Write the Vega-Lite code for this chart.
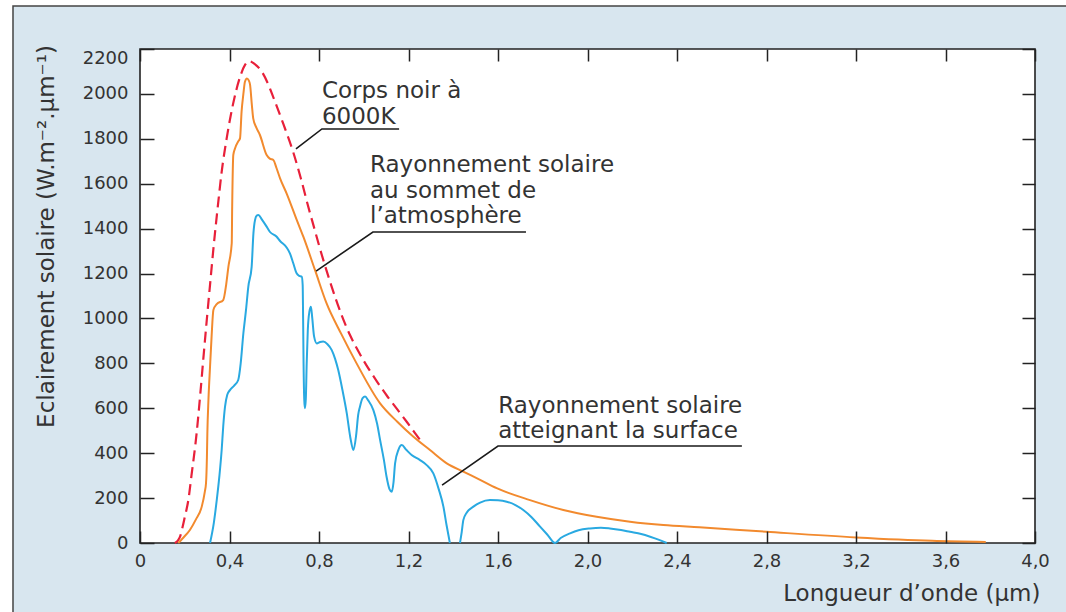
{
  "$schema": "https://vega.github.io/schema/vega-lite/v6.json",
  "width": 895,
  "height": 494,
  "autosize": {"type": "none"},
  "padding": {"left": 140, "top": 49, "right": 31, "bottom": 69},
  "background": "white",
  "config": {"view": {"stroke": null}, "font": "DejaVu Sans"},
  "datasets": {
    "corps_noir": [
      {"wl": 0.156, "e": 0}, {"wl": 0.17, "e": 12}, {"wl": 0.179, "e": 28}, {"wl": 0.19, "e": 70},
      {"wl": 0.2, "e": 115}, {"wl": 0.216, "e": 191}, {"wl": 0.23, "e": 300}, {"wl": 0.253, "e": 488},
      {"wl": 0.27, "e": 670}, {"wl": 0.283, "e": 820}, {"wl": 0.3, "e": 1010}, {"wl": 0.313, "e": 1150},
      {"wl": 0.33, "e": 1330}, {"wl": 0.35, "e": 1520}, {"wl": 0.365, "e": 1653}, {"wl": 0.387, "e": 1800},
      {"wl": 0.417, "e": 1960}, {"wl": 0.447, "e": 2075}, {"wl": 0.47, "e": 2130}, {"wl": 0.489, "e": 2146},
      {"wl": 0.51, "e": 2135}, {"wl": 0.544, "e": 2100}, {"wl": 0.57, "e": 2050}, {"wl": 0.596, "e": 1985},
      {"wl": 0.641, "e": 1865}, {"wl": 0.685, "e": 1740}, {"wl": 0.72, "e": 1620}, {"wl": 0.75, "e": 1505},
      {"wl": 0.78, "e": 1398}, {"wl": 0.804, "e": 1312}, {"wl": 0.849, "e": 1165}, {"wl": 0.901, "e": 1015},
      {"wl": 0.939, "e": 925}, {"wl": 0.968, "e": 868}, {"wl": 1.013, "e": 790}, {"wl": 1.06, "e": 718},
      {"wl": 1.102, "e": 658}, {"wl": 1.15, "e": 595}, {"wl": 1.192, "e": 540}, {"wl": 1.225, "e": 495},
      {"wl": 1.251, "e": 460}
    ],
    "sommet": [
      {"wl": 0.171, "e": 0}, {"wl": 0.19, "e": 20}, {"wl": 0.223, "e": 58}, {"wl": 0.25, "e": 105},
      {"wl": 0.276, "e": 162}, {"wl": 0.29, "e": 230}, {"wl": 0.295, "e": 266}, {"wl": 0.299, "e": 380},
      {"wl": 0.301, "e": 488}, {"wl": 0.306, "e": 640}, {"wl": 0.313, "e": 785}, {"wl": 0.32, "e": 920},
      {"wl": 0.328, "e": 1038}, {"wl": 0.343, "e": 1064}, {"wl": 0.372, "e": 1082}, {"wl": 0.385, "e": 1150},
      {"wl": 0.395, "e": 1230}, {"wl": 0.41, "e": 1335}, {"wl": 0.412, "e": 1500}, {"wl": 0.417, "e": 1728},
      {"wl": 0.425, "e": 1758}, {"wl": 0.44, "e": 1790}, {"wl": 0.447, "e": 1802}, {"wl": 0.454, "e": 1921},
      {"wl": 0.462, "e": 2000}, {"wl": 0.469, "e": 2054}, {"wl": 0.478, "e": 2069}, {"wl": 0.486, "e": 2060},
      {"wl": 0.492, "e": 2040}, {"wl": 0.5, "e": 1950}, {"wl": 0.506, "e": 1891}, {"wl": 0.52, "e": 1850},
      {"wl": 0.536, "e": 1817}, {"wl": 0.566, "e": 1728}, {"wl": 0.58, "e": 1712}, {"wl": 0.596, "e": 1706},
      {"wl": 0.61, "e": 1670}, {"wl": 0.626, "e": 1624}, {"wl": 0.656, "e": 1555}, {"wl": 0.7, "e": 1440},
      {"wl": 0.73, "e": 1364}, {"wl": 0.782, "e": 1216}, {"wl": 0.834, "e": 1067}, {"wl": 0.9, "e": 930},
      {"wl": 0.968, "e": 800}, {"wl": 1.073, "e": 622}, {"wl": 1.15, "e": 540}, {"wl": 1.222, "e": 473},
      {"wl": 1.296, "e": 414}, {"wl": 1.371, "e": 355}, {"wl": 1.445, "e": 318}, {"wl": 1.52, "e": 281},
      {"wl": 1.594, "e": 244}, {"wl": 1.743, "e": 191}, {"wl": 1.892, "e": 147}, {"wl": 2.041, "e": 117},
      {"wl": 2.19, "e": 95}, {"wl": 2.339, "e": 80}, {"wl": 2.5, "e": 70}, {"wl": 2.8, "e": 50},
      {"wl": 3.2, "e": 25}, {"wl": 3.54, "e": 10}, {"wl": 3.78, "e": 5}
    ],
    "surface": [
      {"seg": 1, "wl": 0.313, "e": 0}, {"seg": 1, "wl": 0.33, "e": 90}, {"seg": 1, "wl": 0.343, "e": 191},
      {"seg": 1, "wl": 0.355, "e": 300}, {"seg": 1, "wl": 0.365, "e": 414}, {"seg": 1, "wl": 0.372, "e": 520},
      {"seg": 1, "wl": 0.38, "e": 607}, {"seg": 1, "wl": 0.39, "e": 660}, {"seg": 1, "wl": 0.402, "e": 681},
      {"seg": 1, "wl": 0.42, "e": 700}, {"seg": 1, "wl": 0.439, "e": 726}, {"seg": 1, "wl": 0.45, "e": 800},
      {"seg": 1, "wl": 0.462, "e": 934}, {"seg": 1, "wl": 0.474, "e": 1040}, {"seg": 1, "wl": 0.484, "e": 1141},
      {"seg": 1, "wl": 0.499, "e": 1230}, {"seg": 1, "wl": 0.507, "e": 1380}, {"seg": 1, "wl": 0.514, "e": 1438},
      {"seg": 1, "wl": 0.522, "e": 1458}, {"seg": 1, "wl": 0.529, "e": 1461}, {"seg": 1, "wl": 0.545, "e": 1440},
      {"seg": 1, "wl": 0.566, "e": 1409}, {"seg": 1, "wl": 0.581, "e": 1385}, {"seg": 1, "wl": 0.611, "e": 1364},
      {"seg": 1, "wl": 0.626, "e": 1345}, {"seg": 1, "wl": 0.656, "e": 1315}, {"seg": 1, "wl": 0.67, "e": 1290},
      {"seg": 1, "wl": 0.685, "e": 1246}, {"seg": 1, "wl": 0.7, "e": 1201}, {"seg": 1, "wl": 0.712, "e": 1190},
      {"seg": 1, "wl": 0.723, "e": 1186}, {"seg": 1, "wl": 0.727, "e": 1150}, {"seg": 1, "wl": 0.729, "e": 1000},
      {"seg": 1, "wl": 0.731, "e": 800}, {"seg": 1, "wl": 0.734, "e": 640}, {"seg": 1, "wl": 0.737, "e": 600},
      {"seg": 1, "wl": 0.741, "e": 640}, {"seg": 1, "wl": 0.745, "e": 800}, {"seg": 1, "wl": 0.75, "e": 950},
      {"seg": 1, "wl": 0.757, "e": 1030}, {"seg": 1, "wl": 0.764, "e": 1052}, {"seg": 1, "wl": 0.77, "e": 1000},
      {"seg": 1, "wl": 0.778, "e": 920}, {"seg": 1, "wl": 0.79, "e": 889}, {"seg": 1, "wl": 0.805, "e": 895},
      {"seg": 1, "wl": 0.819, "e": 897}, {"seg": 1, "wl": 0.838, "e": 885}, {"seg": 1, "wl": 0.857, "e": 859},
      {"seg": 1, "wl": 0.872, "e": 820}, {"seg": 1, "wl": 0.886, "e": 770}, {"seg": 1, "wl": 0.905, "e": 680},
      {"seg": 1, "wl": 0.924, "e": 578}, {"seg": 1, "wl": 0.94, "e": 470}, {"seg": 1, "wl": 0.954, "e": 414},
      {"seg": 1, "wl": 0.966, "e": 480}, {"seg": 1, "wl": 0.975, "e": 570}, {"seg": 1, "wl": 0.983, "e": 607},
      {"seg": 1, "wl": 0.995, "e": 645}, {"seg": 1, "wl": 1.006, "e": 652}, {"seg": 1, "wl": 1.02, "e": 635},
      {"seg": 1, "wl": 1.043, "e": 592}, {"seg": 1, "wl": 1.06, "e": 530}, {"seg": 1, "wl": 1.073, "e": 459},
      {"seg": 1, "wl": 1.09, "e": 370}, {"seg": 1, "wl": 1.102, "e": 295}, {"seg": 1, "wl": 1.115, "e": 240},
      {"seg": 1, "wl": 1.125, "e": 228}, {"seg": 1, "wl": 1.133, "e": 270}, {"seg": 1, "wl": 1.14, "e": 355},
      {"seg": 1, "wl": 1.155, "e": 415}, {"seg": 1, "wl": 1.17, "e": 436}, {"seg": 1, "wl": 1.19, "e": 415},
      {"seg": 1, "wl": 1.214, "e": 392}, {"seg": 1, "wl": 1.25, "e": 370}, {"seg": 1, "wl": 1.28, "e": 348},
      {"seg": 1, "wl": 1.311, "e": 310}, {"seg": 1, "wl": 1.335, "e": 240}, {"seg": 1, "wl": 1.356, "e": 162},
      {"seg": 1, "wl": 1.37, "e": 80}, {"seg": 1, "wl": 1.385, "e": 0},
      {"seg": 2, "wl": 1.43, "e": 0}, {"seg": 2, "wl": 1.438, "e": 50}, {"seg": 2, "wl": 1.445, "e": 102},
      {"seg": 2, "wl": 1.46, "e": 135}, {"seg": 2, "wl": 1.49, "e": 162}, {"seg": 2, "wl": 1.52, "e": 180},
      {"seg": 2, "wl": 1.564, "e": 191}, {"seg": 2, "wl": 1.6, "e": 190}, {"seg": 2, "wl": 1.639, "e": 184},
      {"seg": 2, "wl": 1.68, "e": 168}, {"seg": 2, "wl": 1.713, "e": 147}, {"seg": 2, "wl": 1.75, "e": 115},
      {"seg": 2, "wl": 1.788, "e": 73}, {"seg": 2, "wl": 1.82, "e": 38}, {"seg": 2, "wl": 1.855, "e": 0},
      {"seg": 2, "wl": 1.88, "e": 22}, {"seg": 2, "wl": 1.922, "e": 43}, {"seg": 2, "wl": 1.96, "e": 57},
      {"seg": 2, "wl": 2.011, "e": 65}, {"seg": 2, "wl": 2.06, "e": 68}, {"seg": 2, "wl": 2.1, "e": 65},
      {"seg": 2, "wl": 2.15, "e": 58}, {"seg": 2, "wl": 2.19, "e": 50}, {"seg": 2, "wl": 2.24, "e": 40},
      {"seg": 2, "wl": 2.28, "e": 28}, {"seg": 2, "wl": 2.32, "e": 14}, {"seg": 2, "wl": 2.354, "e": 0}
    ],
    "renvois": [
      {"grp": 1, "ordre": 1, "wl": 0.697, "e": 1755}, {"grp": 1, "ordre": 2, "wl": 0.813, "e": 1844}, {"grp": 1, "ordre": 3, "wl": 1.158, "e": 1844},
      {"grp": 2, "ordre": 1, "wl": 0.787, "e": 1211}, {"grp": 2, "ordre": 2, "wl": 1.041, "e": 1385}, {"grp": 2, "ordre": 3, "wl": 1.725, "e": 1385},
      {"grp": 3, "ordre": 1, "wl": 1.35, "e": 258}, {"grp": 3, "ordre": 2, "wl": 1.6, "e": 432}, {"grp": 3, "ordre": 3, "wl": 2.69, "e": 432}
    ],
    "notes": [
      {"wl": 0.813, "e": 1982, "texte": "Corps noir à"},
      {"wl": 0.813, "e": 1866, "texte": "6000K"},
      {"wl": 1.028, "e": 1654, "texte": "Rayonnement solaire"},
      {"wl": 1.028, "e": 1536, "texte": "au sommet de"},
      {"wl": 1.028, "e": 1425, "texte": "l’atmosphère"},
      {"wl": 1.601, "e": 579, "texte": "Rayonnement solaire"},
      {"wl": 1.601, "e": 468, "texte": "atteignant la surface"}
    ]
  },
  "layer": [
    {
      "data": {"values": [{}]},
      "mark": {"type": "rect", "fill": "#d8e6ef", "stroke": "#444444", "strokeWidth": 1.5},
      "encoding": {
        "x": {"datum": -0.5676, "type": "quantitative", "scale": {"domain": [0, 4], "nice": false}, "axis": null},
        "x2": {"datum": 4.4},
        "y": {"datum": 2391, "type": "quantitative", "scale": {"domain": [0, 2200], "nice": false}, "axis": null},
        "y2": {"datum": -400}
      }
    },
    {
      "data": {"values": [{}]},
      "mark": {"type": "rect", "fill": "white", "stroke": "#222222", "strokeWidth": 1.6},
      "encoding": {
        "x": {"datum": 0, "type": "quantitative", "scale": {"domain": [0, 4], "nice": false}, "axis": null},
        "x2": {"datum": 4},
        "y": {"datum": 0, "type": "quantitative", "scale": {"domain": [0, 2200], "nice": false}, "axis": null},
        "y2": {"datum": 2200}
      }
    },
    {
      "data": {"name": "corps_noir"},
      "mark": {"type": "line", "color": "#e8203a", "strokeWidth": 2.2, "strokeDash": [11, 6], "interpolate": "monotone"},
      "encoding": {
        "x": {
          "field": "wl", "type": "quantitative",
          "scale": {"domain": [0, 4], "nice": false},
          "axis": {
            "orient": "bottom", "zindex": 1, "domain": false, "grid": false,
            "values": [0, 0.4, 0.8, 1.2, 1.6, 2, 2.4, 2.8, 3.2, 3.6, 4],
            "labelExpr": "datum.value == 0 ? '0' : replace(format(datum.value, '.1f'), '.', ',')",
            "tickSize": -12, "tickWidth": 1.5, "tickColor": "#222222",
            "labelFont": "DejaVu Sans", "labelFontSize": 18, "labelColor": "#333333",
            "labelPadding": 21, "labelFlush": false, "labelOverlap": false,
            "title": "Longueur d’onde (µm)",
            "titleFont": "DejaVu Sans", "titleFontSize": 23, "titleFontWeight": "normal", "titleColor": "#333333",
            "titleX": 900, "titleY": 57, "titleAlign": "right", "titleBaseline": "alphabetic"
          }
        },
        "y": {
          "field": "e", "type": "quantitative",
          "scale": {"domain": [0, 2200], "nice": false},
          "axis": {
            "orient": "left", "zindex": 1, "domain": false, "grid": false,
            "values": [0, 200, 400, 600, 800, 1000, 1200, 1400, 1600, 1800, 2000, 2200],
            "format": "d",
            "tickSize": -14, "tickWidth": 1.5, "tickColor": "#222222",
            "labelFont": "DejaVu Sans", "labelFontSize": 18, "labelColor": "#333333",
            "labelPadding": 26, "labelFlush": false, "labelOverlap": false,
            "labelBaseline": {"condition": {"test": "datum.value == 2200", "value": "top"}, "value": "middle"},
            "title": "Eclairement solaire (W.m⁻².µm⁻¹)",
            "titleFont": "DejaVu Sans", "titleFontSize": 23, "titleFontWeight": "normal", "titleColor": "#333333",
            "titleAngle": 270, "titleX": -87, "titleY": 187, "titleAlign": "center", "titleBaseline": "alphabetic"
          }
        }
      }
    },
    {
      "data": {"name": "sommet"},
      "mark": {"type": "line", "color": "#f28a2e", "strokeWidth": 2, "interpolate": "monotone"},
      "encoding": {
        "x": {
          "field": "wl", "type": "quantitative",
          "scale": {"domain": [0, 4], "nice": false},
          "axis": {
            "orient": "top", "zindex": 1, "domain": false, "grid": false, "labels": false, "title": null,
            "values": [0, 0.4, 0.8, 1.2, 1.6, 2, 2.4, 2.8, 3.2, 3.6, 4],
            "tickSize": -12, "tickWidth": 1.5, "tickColor": "#222222"
          }
        },
        "y": {
          "field": "e", "type": "quantitative",
          "scale": {"domain": [0, 2200], "nice": false},
          "axis": {
            "orient": "right", "zindex": 1, "domain": false, "grid": false, "labels": false, "title": null,
            "values": [0, 200, 400, 600, 800, 1000, 1200, 1400, 1600, 1800, 2000, 2200],
            "tickSize": -13, "tickWidth": 1.5, "tickColor": "#222222"
          }
        }
      }
    },
    {
      "data": {"name": "surface"},
      "mark": {"type": "line", "color": "#29a9e1", "strokeWidth": 2, "interpolate": "monotone"},
      "encoding": {
        "x": {"field": "wl", "type": "quantitative", "scale": {"domain": [0, 4], "nice": false}, "axis": null},
        "y": {"field": "e", "type": "quantitative", "scale": {"domain": [0, 2200], "nice": false}, "axis": null},
        "detail": {"field": "seg", "type": "nominal"}
      }
    },
    {
      "data": {"name": "renvois"},
      "mark": {"type": "line", "color": "#1a1a1a", "strokeWidth": 1.6},
      "encoding": {
        "x": {"field": "wl", "type": "quantitative", "scale": {"domain": [0, 4], "nice": false}, "axis": null},
        "y": {"field": "e", "type": "quantitative", "scale": {"domain": [0, 2200], "nice": false}, "axis": null},
        "detail": {"field": "grp", "type": "nominal"},
        "order": {"field": "ordre", "type": "quantitative"}
      }
    },
    {
      "data": {"name": "notes"},
      "mark": {"type": "text", "align": "left", "baseline": "alphabetic", "font": "DejaVu Sans", "fontSize": 23, "color": "#333333"},
      "encoding": {
        "x": {"field": "wl", "type": "quantitative", "scale": {"domain": [0, 4], "nice": false}, "axis": null},
        "y": {"field": "e", "type": "quantitative", "scale": {"domain": [0, 2200], "nice": false}, "axis": null},
        "text": {"field": "texte"}
      }
    }
  ],
  "resolve": {"axis": {"x": "independent", "y": "independent"}}
}
